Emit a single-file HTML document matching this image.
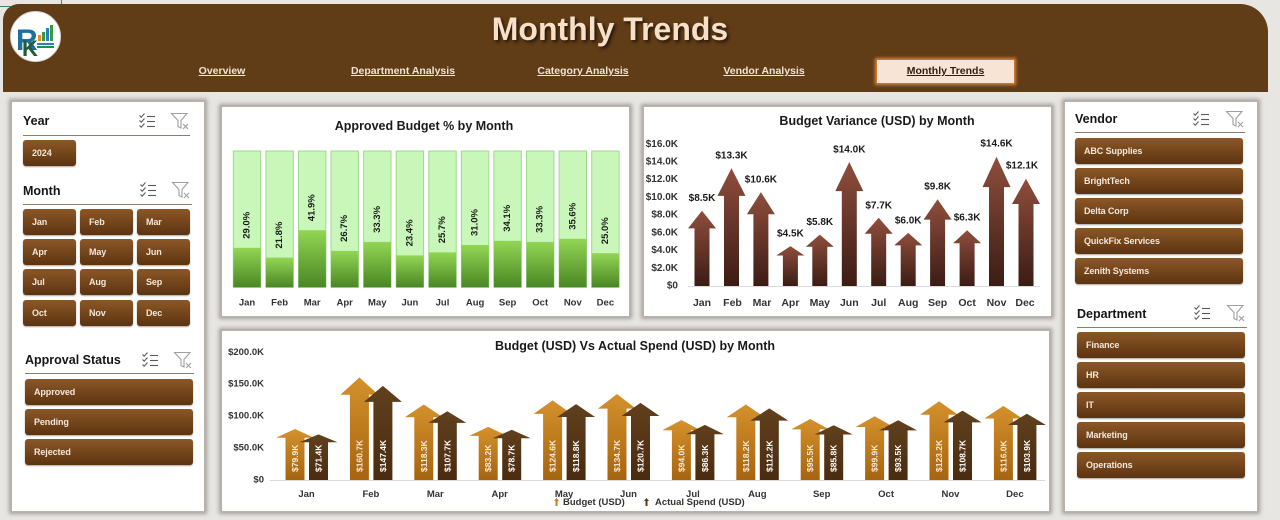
<!DOCTYPE html>
<html><head><meta charset="utf-8">
<style>
*{margin:0;padding:0;box-sizing:border-box}
body{width:1280px;height:520px;overflow:hidden;background:#e8e6e3;font-family:"Liberation Sans",sans-serif}
#root{position:relative;width:1280px;height:520px;overflow:hidden;background:#e8e6e3}
.abs{position:absolute}
.header{left:3px;top:4px;width:1265px;height:88px;background:#603c17;border-radius:16px 28px 0 0}
.title{left:0;top:11px;width:1220px;text-align:center;font:bold 32px "Liberation Sans",sans-serif;color:#f8dfc8;text-shadow:2px 2px 3px rgba(0,0,0,.65)}
.nav{top:65px;font:bold 10.5px "Liberation Sans",sans-serif;color:#f1e4d6;text-decoration:underline;transform:translateX(-50%);white-space:nowrap}
.navact{left:876px;top:59px;width:139px;height:25px;background:#f7e4d4;border:1px solid #c97530;box-shadow:0 0 3px 1px #d9853a;text-align:center;font:bold 10.5px "Liberation Sans",sans-serif;line-height:23px;color:#2e1c0d;text-decoration:underline}
.panel{background:#fff;border:1px solid #b8b2ab;box-shadow:0 0 4px 2px rgba(110,100,92,.55)}
.hd{font:bold 12.5px "Liberation Sans",sans-serif;color:#161616;white-space:nowrap}
.ln{height:1px;background:#8c7d6d}
.btn{position:absolute;height:26px;background:linear-gradient(#8c5727,#5c3411);border-radius:3px;color:#f3e7da;font:bold 9px "Liberation Sans",sans-serif;letter-spacing:-0.1px;padding-left:9px;line-height:26px;box-shadow:0 1px 1.5px rgba(0,0,0,.35);white-space:nowrap}
svg text{font-family:"Liberation Sans",sans-serif;font-weight:bold}
</style></head><body><div id="root">

<div class="abs" style="left:0;top:0;width:62px;height:7px;border-right:1px solid #3a8a5a;border-bottom:1px solid #3a8a5a"></div>

<div class="abs header"></div>
<div class="abs title">Monthly Trends</div>

<svg class="abs" style="left:0;top:0" width="80" height="80">
  <circle cx="35.5" cy="36.5" r="25" fill="#fff" stroke="#d8d2c8" stroke-width="1"/>
  <text x="16" y="50" font-size="30" fill="#1d6f9e" font-family="Liberation Serif" font-weight="bold">R</text>
  <text x="22" y="56" font-size="22" fill="#1f5c3a" font-family="Liberation Serif" font-weight="bold">K</text>
  <rect x="38" y="35" width="3" height="6" fill="#e8892a"/>
  <rect x="42" y="32" width="3" height="9" fill="#3a9a44"/>
  <rect x="46" y="28" width="3" height="13" fill="#2a7fc0"/>
  <rect x="50" y="25" width="3" height="16" fill="#3a9a44"/>
  <rect x="37" y="43" width="17" height="2" fill="#2a7fc0"/>
  <rect x="37" y="46" width="17" height="2" fill="#1f8a5a"/>
</svg>

<div class="abs nav" style="left:222px">Overview</div>
<div class="abs nav" style="left:403px">Department Analysis</div>
<div class="abs nav" style="left:583px">Category Analysis</div>
<div class="abs nav" style="left:764px">Vendor Analysis</div>
<div class="abs navact">Monthly Trends</div>

<div class="abs panel" style="left:11px;top:101px;width:194px;height:411px"></div>
<div class="abs panel" style="left:221px;top:106px;width:409px;height:211px"></div>
<div class="abs panel" style="left:643px;top:106px;width:409px;height:211px"></div>
<div class="abs panel" style="left:221px;top:330px;width:829px;height:182px"></div>
<div class="abs panel" style="left:1064px;top:101px;width:194px;height:411px"></div>

<div class="abs hd" style="left:23px;top:114px">Year</div>
<div class="abs ln" style="left:23px;top:135px;width:167px"></div>
<div class="btn" style="left:23px;top:140px;width:53px">2024</div>

<div class="abs hd" style="left:23px;top:184px">Month</div>
<div class="abs ln" style="left:23px;top:204px;width:169px"></div>
<div class="btn" style="left:23px;top:209px;width:53px">Jan</div>
<div class="btn" style="left:80px;top:209px;width:53px">Feb</div>
<div class="btn" style="left:137px;top:209px;width:53px">Mar</div>
<div class="btn" style="left:23px;top:239px;width:53px">Apr</div>
<div class="btn" style="left:80px;top:239px;width:53px">May</div>
<div class="btn" style="left:137px;top:239px;width:53px">Jun</div>
<div class="btn" style="left:23px;top:269px;width:53px">Jul</div>
<div class="btn" style="left:80px;top:269px;width:53px">Aug</div>
<div class="btn" style="left:137px;top:269px;width:53px">Sep</div>
<div class="btn" style="left:23px;top:300px;width:53px">Oct</div>
<div class="btn" style="left:80px;top:300px;width:53px">Nov</div>
<div class="btn" style="left:137px;top:300px;width:53px">Dec</div>

<div class="abs hd" style="left:25px;top:353px">Approval Status</div>
<div class="abs ln" style="left:25px;top:373px;width:169px"></div>
<div class="btn" style="left:25px;top:379px;width:168px">Approved</div>
<div class="btn" style="left:25px;top:409px;width:168px">Pending</div>
<div class="btn" style="left:25px;top:439px;width:168px">Rejected</div>

<div class="abs hd" style="left:1075px;top:112px">Vendor</div>
<div class="abs ln" style="left:1075px;top:132px;width:170px"></div>
<div class="btn" style="left:1075px;top:138px;width:168px">ABC Supplies</div>
<div class="btn" style="left:1075px;top:168px;width:168px">BrightTech</div>
<div class="btn" style="left:1075px;top:198px;width:168px">Delta Corp</div>
<div class="btn" style="left:1075px;top:228px;width:168px">QuickFix Services</div>
<div class="btn" style="left:1075px;top:258px;width:168px">Zenith Systems</div>

<div class="abs hd" style="left:1077px;top:307px">Department</div>
<div class="abs ln" style="left:1077px;top:327px;width:170px"></div>
<div class="btn" style="left:1077px;top:332px;width:168px">Finance</div>
<div class="btn" style="left:1077px;top:362px;width:168px">HR</div>
<div class="btn" style="left:1077px;top:392px;width:168px">IT</div>
<div class="btn" style="left:1077px;top:422px;width:168px">Marketing</div>
<div class="btn" style="left:1077px;top:452px;width:168px">Operations</div>

<svg class="abs" style="left:0;top:0" width="1280" height="520">
<defs>
  <g id="ms" fill="none" stroke="#5a5a5a" stroke-width="1.1">
    <polyline points="0.5,2.5 2.2,4.2 5.5,0.5"/>
    <polyline points="0.5,7.5 2.2,9.2 5.5,5.5"/>
    <polyline points="0.5,12.5 2.2,14.2 5.5,10.5"/>
    <line x1="8" y1="3.5" x2="16" y2="3.5"/>
    <line x1="8" y1="8.5" x2="16" y2="8.5"/>
    <line x1="8" y1="13.5" x2="16" y2="13.5"/>
  </g>
  <g id="fc" fill="none" stroke="#a0a0a0" stroke-width="1.1">
    <path d="M0.5,0.5 H16 L10,7.5 V15 L7,13.5 V7.5 Z"/>
    <line x1="12" y1="11" x2="17" y2="16"/>
    <line x1="17" y1="11" x2="12" y2="16"/>
  </g>
  <linearGradient id="gg" x1="0" y1="0" x2="0" y2="1"><stop offset="0" stop-color="#93d655"/><stop offset="1" stop-color="#4a8624"/></linearGradient>
  <linearGradient id="gv" x1="0" y1="0" x2="0" y2="1"><stop offset="0" stop-color="#8f4e3d"/><stop offset="1" stop-color="#3b1c13"/></linearGradient>
  <linearGradient id="gb" x1="0" y1="0" x2="0" y2="1"><stop offset="0" stop-color="#d4912c"/><stop offset="1" stop-color="#a7640f"/></linearGradient>
  <linearGradient id="ga" x1="0" y1="0" x2="0" y2="1"><stop offset="0" stop-color="#60401d"/><stop offset="1" stop-color="#4a2b0f"/></linearGradient>
</defs>

<use href="#ms" x="139" y="113"/><use href="#fc" x="171" y="113"/>
<use href="#ms" x="140" y="182"/><use href="#fc" x="172" y="182"/>
<use href="#ms" x="142" y="352"/><use href="#fc" x="174" y="352"/>
<use href="#ms" x="1193" y="111"/><use href="#fc" x="1226" y="111"/>
<use href="#ms" x="1194" y="305"/><use href="#fc" x="1227" y="305"/>

<text x="424" y="130" font-size="12.5" fill="#1a1a1a" text-anchor="middle">Approved Budget % by Month</text>
<g fill="#c8f7b9" stroke="#9ed98b" stroke-width="1">
<rect x="233.3" y="151" width="27.4" height="136.3"/>
<rect x="265.9" y="151" width="27.4" height="136.3"/>
<rect x="298.5" y="151" width="27.4" height="136.3"/>
<rect x="331.0" y="151" width="27.4" height="136.3"/>
<rect x="363.6" y="151" width="27.4" height="136.3"/>
<rect x="396.2" y="151" width="27.4" height="136.3"/>
<rect x="428.8" y="151" width="27.4" height="136.3"/>
<rect x="461.4" y="151" width="27.4" height="136.3"/>
<rect x="493.9" y="151" width="27.4" height="136.3"/>
<rect x="526.5" y="151" width="27.4" height="136.3"/>
<rect x="559.1" y="151" width="27.4" height="136.3"/>
<rect x="591.7" y="151" width="27.4" height="136.3"/>
</g>
<g fill="url(#gg)">
<rect x="233.3" y="247.8" width="27.4" height="39.5"/>
<rect x="265.9" y="257.6" width="27.4" height="29.7"/>
<rect x="298.5" y="230.2" width="27.4" height="57.1"/>
<rect x="331.0" y="250.9" width="27.4" height="36.4"/>
<rect x="363.6" y="241.9" width="27.4" height="45.4"/>
<rect x="396.2" y="255.4" width="27.4" height="31.9"/>
<rect x="428.8" y="252.3" width="27.4" height="35.0"/>
<rect x="461.4" y="245.0" width="27.4" height="42.3"/>
<rect x="493.9" y="240.8" width="27.4" height="46.5"/>
<rect x="526.5" y="241.9" width="27.4" height="45.4"/>
<rect x="559.1" y="238.8" width="27.4" height="48.5"/>
<rect x="591.7" y="253.2" width="27.4" height="34.1"/>
</g>
<g font-size="9.5" fill="#1a1a1a" dominant-baseline="central">
<text transform="translate(247.0,238.8) rotate(-90)">29.0%</text>
<text transform="translate(279.6,248.6) rotate(-90)">21.8%</text>
<text transform="translate(312.2,221.2) rotate(-90)">41.9%</text>
<text transform="translate(344.7,241.9) rotate(-90)">26.7%</text>
<text transform="translate(377.3,232.9) rotate(-90)">33.3%</text>
<text transform="translate(409.9,246.4) rotate(-90)">23.4%</text>
<text transform="translate(442.5,243.3) rotate(-90)">25.7%</text>
<text transform="translate(475.1,236.0) rotate(-90)">31.0%</text>
<text transform="translate(507.6,231.8) rotate(-90)">34.1%</text>
<text transform="translate(540.2,232.9) rotate(-90)">33.3%</text>
<text transform="translate(572.8,229.8) rotate(-90)">35.6%</text>
<text transform="translate(605.4,244.2) rotate(-90)">25.0%</text>
</g>
<g font-size="9.5" fill="#333" text-anchor="middle">
<text x="247.0" y="305.5">Jan</text><text x="279.6" y="305.5">Feb</text><text x="312.2" y="305.5">Mar</text>
<text x="344.7" y="305.5">Apr</text><text x="377.3" y="305.5">May</text><text x="409.9" y="305.5">Jun</text>
<text x="442.5" y="305.5">Jul</text><text x="475.1" y="305.5">Aug</text><text x="507.6" y="305.5">Sep</text>
<text x="540.2" y="305.5">Oct</text><text x="572.8" y="305.5">Nov</text><text x="605.4" y="305.5">Dec</text>
</g>

<text x="877" y="125" font-size="12.5" fill="#1a1a1a" text-anchor="middle">Budget Variance (USD) by Month</text>
<g font-size="10" fill="#333" text-anchor="end" dominant-baseline="central">
<text x="678" y="286">$0</text><text x="678" y="268.3">$2.0K</text><text x="678" y="250.6">$4.0K</text>
<text x="678" y="232.9">$6.0K</text><text x="678" y="215.1">$8.0K</text><text x="678" y="197.4">$10.0K</text>
<text x="678" y="179.7">$12.0K</text><text x="678" y="162.0">$14.0K</text><text x="678" y="144.3">$16.0K</text>
</g>
<line x1="688" y1="286.5" x2="1040" y2="286.5" stroke="#d9d9d9" stroke-width="1"/>
<g fill="url(#gv)">
<path d="M694.5,286 V228.4 H688 L702,210.7 L716,228.4 H709.5 V286 Z"/>
<path d="M724,286 V195.9 H717.5 L731.5,168.2 L745.5,195.9 H739 V286 Z"/>
<path d="M753.4,286 V214.2 H746.9 L760.9,192.1 L774.9,214.2 H768.4 V286 Z"/>
<path d="M782.9,286 V255.5 H776.4 L790.4,246.1 L804.4,255.5 H797.9 V286 Z"/>
<path d="M812.3,286 V246.7 H805.8 L819.8,234.6 L833.8,246.7 H827.3 V286 Z"/>
<path d="M841.8,286 V191.1 H835.3 L849.3,162.0 L863.3,191.1 H856.8 V286 Z"/>
<path d="M871.2,286 V233.8 H864.7 L878.7,217.8 L892.7,233.8 H886.2 V286 Z"/>
<path d="M900.7,286 V245.4 H894.2 L908.2,232.9 L922.2,245.4 H915.7 V286 Z"/>
<path d="M930.1,286 V219.6 H923.6 L937.6,199.2 L951.6,219.6 H945.1 V286 Z"/>
<path d="M959.6,286 V243.3 H953.1 L967.1,230.2 L981.1,243.3 H974.6 V286 Z"/>
<path d="M989,286 V187.1 H982.5 L996.5,156.7 L1010.5,187.1 H1004 V286 Z"/>
<path d="M1018.5,286 V204.0 H1012 L1026,178.8 L1040,204.0 H1033.5 V286 Z"/>
</g>
<g font-size="10" fill="#1a1a1a" text-anchor="middle" dominant-baseline="central">
<text x="702" y="198.7">$8.5K</text><text x="731.5" y="156.2">$13.3K</text><text x="760.9" y="180.1">$10.6K</text>
<text x="790.4" y="234.1">$4.5K</text><text x="819.8" y="222.6">$5.8K</text><text x="849.3" y="150">$14.0K</text>
<text x="878.7" y="205.8">$7.7K</text><text x="908.2" y="220.9">$6.0K</text><text x="937.6" y="187.2">$9.8K</text>
<text x="967.1" y="218.2">$6.3K</text><text x="996.5" y="144.2">$14.6K</text><text x="1022" y="166">$12.1K</text>
</g>
<g font-size="10.5" fill="#333" text-anchor="middle">
<text x="702" y="306">Jan</text><text x="732.5" y="306">Feb</text><text x="762" y="306">Mar</text>
<text x="790.4" y="306">Apr</text><text x="819.8" y="306">May</text><text x="849.3" y="306">Jun</text>
<text x="878.7" y="306">Jul</text><text x="908.2" y="306">Aug</text><text x="937.6" y="306">Sep</text>
<text x="967.1" y="306">Oct</text><text x="996.5" y="306">Nov</text><text x="1025" y="306">Dec</text>
</g>

<text x="635" y="350" font-size="12.5" fill="#1a1a1a" text-anchor="middle">Budget (USD) Vs Actual Spend (USD) by Month</text>
<g font-size="9.5" fill="#333" text-anchor="end" dominant-baseline="central">
<text x="264" y="480">$0</text><text x="264" y="448.1">$50.0K</text><text x="264" y="416.1">$100.0K</text>
<text x="264" y="384.2">$150.0K</text><text x="264" y="352.3">$200.0K</text>
</g>
<line x1="270" y1="480.5" x2="1045" y2="480.5" stroke="#d9d9d9" stroke-width="1"/>
<g fill="url(#gb)">
<path d="M285.5,480 V437.7 H276 L295,429.0 L314,437.7 H304.5 V480 Z"/>
<path d="M349.9,480 V394.8 H340.4 L359.4,377.4 L378.4,394.8 H368.9 V480 Z"/>
<path d="M414.3,480 V417.3 H404.8 L423.8,404.5 L442.8,417.3 H433.3 V480 Z"/>
<path d="M478.7,480 V435.9 H469.2 L488.2,426.9 L507.2,435.9 H497.7 V480 Z"/>
<path d="M543.1,480 V413.9 H533.6 L552.6,400.4 L571.6,413.9 H562.1 V480 Z"/>
<path d="M607.5,480 V408.6 H598 L617,394.0 L636,408.6 H626.5 V480 Z"/>
<path d="M671.9,480 V430.2 H662.4 L681.4,420.0 L700.4,430.2 H690.9 V480 Z"/>
<path d="M736.3,480 V417.3 H726.8 L745.8,404.5 L764.8,417.3 H755.3 V480 Z"/>
<path d="M800.7,480 V429.4 H791.2 L810.2,419.0 L829.2,429.4 H819.7 V480 Z"/>
<path d="M865.1,480 V427.0 H855.6 L874.6,416.2 L893.6,427.0 H884.1 V480 Z"/>
<path d="M929.5,480 V414.7 H920 L939,401.3 L958,414.7 H948.5 V480 Z"/>
<path d="M993.9,480 V418.5 H984.4 L1003.4,405.9 L1022.4,418.5 H1012.9 V480 Z"/>
</g>
<g fill="url(#ga)">
<path d="M309,480 V442.2 H299.5 L318.5,434.4 L337.5,442.2 H328 V480 Z"/>
<path d="M373.4,480 V401.9 H363.9 L382.9,385.9 L401.9,401.9 H392.4 V480 Z"/>
<path d="M437.8,480 V422.9 H428.3 L447.3,411.2 L466.3,422.9 H456.8 V480 Z"/>
<path d="M502.2,480 V438.3 H492.7 L511.7,429.8 L530.7,438.3 H521.2 V480 Z"/>
<path d="M566.6,480 V417.0 H557.1 L576.1,404.1 L595.1,417.0 H585.6 V480 Z"/>
<path d="M631,480 V416.0 H621.5 L640.5,402.9 L659.5,416.0 H650 V480 Z"/>
<path d="M695.4,480 V434.3 H685.9 L704.9,424.9 L723.9,434.3 H714.4 V480 Z"/>
<path d="M759.8,480 V420.6 H750.3 L769.3,408.4 L788.3,420.6 H778.8 V480 Z"/>
<path d="M824.2,480 V434.5 H814.7 L833.7,425.2 L852.7,434.5 H843.2 V480 Z"/>
<path d="M888.6,480 V430.4 H879.1 L898.1,420.3 L917.1,430.4 H907.6 V480 Z"/>
<path d="M953,480 V422.4 H943.5 L962.5,410.6 L981.5,422.4 H972 V480 Z"/>
<path d="M1017.4,480 V425.0 H1007.9 L1026.9,413.7 L1045.9,425.0 H1036.4 V480 Z"/>
</g>
<g font-size="8.5" fill="#f6ead8" dominant-baseline="central">
<text transform="translate(295,472) rotate(-90)">$79.9K</text>
<text transform="translate(359.4,472) rotate(-90)">$160.7K</text>
<text transform="translate(423.8,472) rotate(-90)">$118.3K</text>
<text transform="translate(488.2,472) rotate(-90)">$83.2K</text>
<text transform="translate(552.6,472) rotate(-90)">$124.6K</text>
<text transform="translate(617,472) rotate(-90)">$134.7K</text>
<text transform="translate(681.4,472) rotate(-90)">$94.0K</text>
<text transform="translate(745.8,472) rotate(-90)">$118.2K</text>
<text transform="translate(810.2,472) rotate(-90)">$95.5K</text>
<text transform="translate(874.6,472) rotate(-90)">$99.9K</text>
<text transform="translate(939,472) rotate(-90)">$123.2K</text>
<text transform="translate(1003.4,472) rotate(-90)">$116.0K</text>
</g>
<g font-size="8.5" fill="#ffffff" dominant-baseline="central">
<text transform="translate(318.5,472) rotate(-90)">$71.4K</text>
<text transform="translate(382.9,472) rotate(-90)">$147.4K</text>
<text transform="translate(447.3,472) rotate(-90)">$107.7K</text>
<text transform="translate(511.7,472) rotate(-90)">$78.7K</text>
<text transform="translate(576.1,472) rotate(-90)">$118.8K</text>
<text transform="translate(640.5,472) rotate(-90)">$120.7K</text>
<text transform="translate(704.9,472) rotate(-90)">$86.3K</text>
<text transform="translate(769.3,472) rotate(-90)">$112.2K</text>
<text transform="translate(833.7,472) rotate(-90)">$85.8K</text>
<text transform="translate(898.1,472) rotate(-90)">$93.5K</text>
<text transform="translate(962.5,472) rotate(-90)">$108.7K</text>
<text transform="translate(1026.9,472) rotate(-90)">$103.9K</text>
</g>
<g font-size="9.5" fill="#333" text-anchor="middle">
<text x="306.5" y="497">Jan</text><text x="370.9" y="497">Feb</text><text x="435.3" y="497">Mar</text>
<text x="499.7" y="497">Apr</text><text x="564.1" y="497">May</text><text x="628.5" y="497">Jun</text>
<text x="692.9" y="497">Jul</text><text x="757.3" y="497">Aug</text><text x="821.7" y="497">Sep</text>
<text x="886.1" y="497">Oct</text><text x="950.5" y="497">Nov</text><text x="1014.9" y="497">Dec</text>
</g>
<path d="M555.5,506 V501 H554 L556.5,498 L559,501 H557.5 V506 Z" fill="#c4801f"/>
<text x="563" y="505" font-size="9.5" fill="#333">Budget (USD)</text>
<path d="M645.5,506 V501 H644 L646.5,498 L649,501 H647.5 V506 Z" fill="#5a3818"/>
<text x="655" y="505" font-size="9.5" fill="#333">Actual Spend (USD)</text>
</svg>

</div></body></html>
